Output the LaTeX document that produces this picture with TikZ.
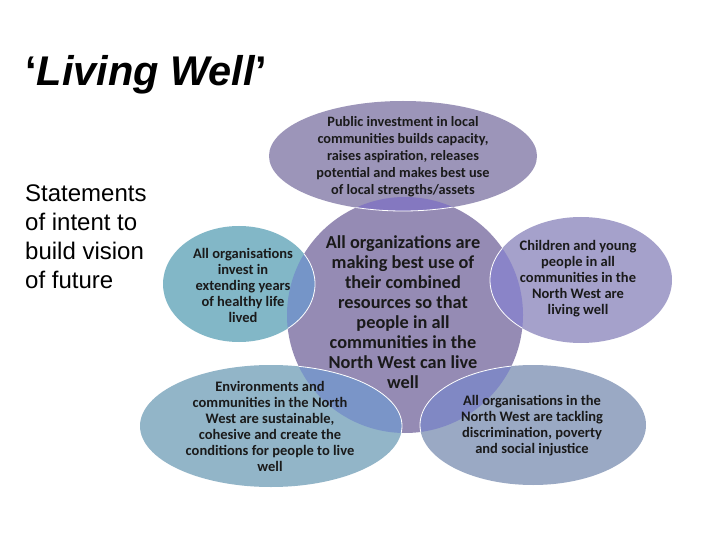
\documentclass[tikz,border=0pt]{standalone}
\usepackage{fontspec}
\setmainfont{Liberation Sans}
\newfontfamily\calfont{Carlito}
\definecolor{cCenter}{HTML}{958BB4}
\definecolor{cTop}{HTML}{9C95B9}
\definecolor{cLeft}{HTML}{82B7C7}
\definecolor{cRight}{HTML}{A5A1CB}
\definecolor{cBL}{HTML}{92B5C8}
\definecolor{cBR}{HTML}{9AA9C4}
\definecolor{oTop}{HTML}{8478C0}
\definecolor{oLeft}{HTML}{7595C8}
\definecolor{oRight}{HTML}{8A84C8}
\definecolor{oBL}{HTML}{7A95C8}
\definecolor{oBR}{HTML}{8088C4}
\definecolor{txt}{HTML}{1A1A1A}
\tikzset{
  edge/.style={draw=white, line width=0.8pt},
  smalltxt/.style={font=\calfont\bfseries\fontsize{14.5}{16}\selectfont, text=txt, align=center, inner sep=0pt},
  toptxt/.style={font=\calfont\bfseries\fontsize{14.3}{17}\selectfont, text=txt, align=center, inner sep=0pt},
  bigtxt/.style={font=\calfont\bfseries\fontsize{18.3}{20}\selectfont, text=txt, align=center, inner sep=0pt},
}
\begin{document}
\begin{tikzpicture}[x=1pt,y=-1pt]
\useasboundingbox[fill=white] (0,0) rectangle (720,540);
% centre circle
\fill[cCenter] (405,315) circle (118);
% outer shapes
\fill[cTop] (403,156) ellipse (134 and 55);
\fill[cLeft] (239,284) ellipse (76 and 58);
\fill[cRight] (581,280) ellipse (91 and 63);
\fill[cBL] (271,426) ellipse (131 and 61);
\fill[cBR] (533,425) ellipse (113 and 60);
% overlaps
\begin{scope}
  \clip (405,315) circle (118);
  \fill[oTop] (403,156) ellipse (134 and 55);
  \fill[oLeft] (239,284) ellipse (76 and 58);
  \fill[oRight] (581,280) ellipse (91 and 63);
  \fill[oBL] (271,426) ellipse (131 and 61);
  \fill[oBR] (533,425) ellipse (113 and 60);
\end{scope}
% edges
\begin{scope}
  \clip (405,315) circle (118);
  \draw[edge] (403,156) ellipse (134 and 55);
  \draw[edge] (239,284) ellipse (76 and 58);
  \draw[edge] (581,280) ellipse (91 and 63);
  \draw[edge] (271,426) ellipse (131 and 61);
  \draw[edge] (533,425) ellipse (113 and 60);
\end{scope}
% texts
\node[anchor=base west, font=\bfseries\fontsize{41.5}{44}\selectfont, inner sep=0pt] (title) at (25,86) {‘\textit{Living Well}’};
\node[anchor=north west, align=left, font=\fontsize{24}{29}\selectfont, inner sep=0pt] (intro) at (25,185) {Statements\\of intent to\\build vision\\of future};
\node[toptxt] (top) at (403,157) {Public investment in local\\communities builds capacity,\\raises aspiration, releases\\potential and makes best use\\of local strengths/assets};
\node[bigtxt] (center) at (403,312) {All organizations are\\making best use of\\their combined\\resources so that\\people in all\\communities in the\\North West can live\\well};
\node[smalltxt] (left) at (243,285) {All organisations\\invest in\\extending years\\of healthy life\\lived};
\node[smalltxt] (right) at (578,279) {Children and young\\people in all\\communities in the\\North West are\\living well};
\node[smalltxt] (bl) at (270,426) {Environments and\\communities in the North\\West are sustainable,\\cohesive and create the\\conditions for people to live\\well};
\node[smalltxt] (br) at (532,426) {All organisations in the\\North West are tackling\\discrimination, poverty\\and social injustice};
\end{tikzpicture}
\end{document}
